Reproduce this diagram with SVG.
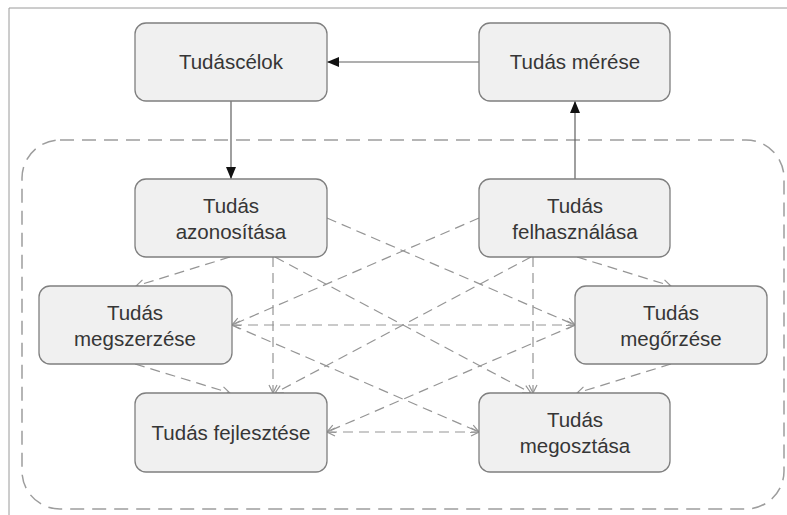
<svg xmlns="http://www.w3.org/2000/svg" width="787" height="515" viewBox="0 0 787 515">
<style>
.node rect{fill:#f0f0f0;stroke:#7f7f7f;stroke-width:1.3}
.node text{font-family:"Liberation Sans","DejaVu Sans",sans-serif;font-size:20.5px;fill:#363636;text-anchor:middle}
.solid{stroke:#606060;stroke-width:1.2;fill:none}
.dash{stroke:#959595;stroke-width:1.2;fill:none;stroke-dasharray:10 6}
.frame{stroke:#9a9a9a;stroke-width:1;fill:none}
.container{stroke:#9d9d9d;stroke-width:1.5;fill:none;stroke-dasharray:14 8}
</style>
<defs>
<marker id="solidArrow" viewBox="0 0 12 10" refX="12" refY="5" markerWidth="12" markerHeight="10" markerUnits="userSpaceOnUse" orient="auto">
<path d="M0,0 L12,5 L0,10 Z" fill="#111111" stroke="none"/>
</marker>
<marker id="openArrow" viewBox="0 0 10 10" refX="9" refY="5" markerWidth="10" markerHeight="10" markerUnits="userSpaceOnUse" orient="auto-start-reverse">
<path d="M1,1 L9,5 L1,9" fill="none" stroke="#959595" stroke-width="1.2" stroke-dasharray="none"/>
</marker>
</defs>
<rect width="787" height="515" fill="#ffffff"/>
<path class="frame" d="M9,515 L9,8 L787,8"/>
<rect class="container" x="22" y="140" width="762" height="369" rx="38" ry="38"/>
<g id="connectors">
<path class="solid" d="M479,62 L327,62" marker-end="url(#solidArrow)"/>
<path class="solid" d="M231,101 L231,179" marker-end="url(#solidArrow)"/>
<path class="solid" d="M575,179 L575,101" marker-end="url(#solidArrow)"/>
<path class="dash" d="M230,257 L136,286" marker-end="url(#openArrow)"/>
<path class="dash" d="M327,218 L575,325" marker-end="url(#openArrow)"/>
<path class="dash" d="M273,257 L273,393" marker-end="url(#openArrow)"/>
<path class="dash" d="M275,257 L531,393" marker-end="url(#openArrow)"/>
<path class="dash" d="M479,218 L232,325" marker-end="url(#openArrow)"/>
<path class="dash" d="M531,257 L275,393" marker-end="url(#openArrow)"/>
<path class="dash" d="M533,257 L533,393" marker-end="url(#openArrow)"/>
<path class="dash" d="M577,257 L671,286" marker-end="url(#openArrow)"/>
<path class="dash" d="M232,325 L575,325" marker-start="url(#openArrow)" marker-end="url(#openArrow)"/>
<path class="dash" d="M232,325 L479,432" marker-end="url(#openArrow)"/>
<path class="dash" d="M135,364 L230,393" marker-end="url(#openArrow)"/>
<path class="dash" d="M575,325 L327,432" marker-end="url(#openArrow)"/>
<path class="dash" d="M671,364 L577,393" marker-end="url(#openArrow)"/>
<path class="dash" d="M327,432 L479,432" marker-start="url(#openArrow)" marker-end="url(#openArrow)"/>
</g>
<g id="tudascelok" class="node">
<rect x="135" y="23" width="192" height="78" rx="11"/>
<text x="231" y="69">Tudáscélok</text>
</g>
<g id="tudas-merese" class="node">
<rect x="479" y="23" width="191" height="78" rx="11"/>
<text x="575" y="69">Tudás mérése</text>
</g>
<g id="tudas-azonositasa" class="node">
<rect x="135" y="179" width="192" height="78" rx="11"/>
<text x="231" y="213">Tudás</text>
<text x="231" y="239">azonosítása</text>
</g>
<g id="tudas-felhasznalasa" class="node">
<rect x="479" y="179" width="191" height="78" rx="11"/>
<text x="575" y="213">Tudás</text>
<text x="575" y="239">felhasználása</text>
</g>
<g id="tudas-megszerzese" class="node">
<rect x="39" y="286" width="193" height="78" rx="11"/>
<text x="135" y="320">Tudás</text>
<text x="135" y="346">megszerzése</text>
</g>
<g id="tudas-megorzese" class="node">
<rect x="575" y="286" width="192" height="78" rx="11"/>
<text x="671" y="320">Tudás</text>
<text x="671" y="346">megőrzése</text>
</g>
<g id="tudas-fejlesztese" class="node">
<rect x="135" y="393" width="192" height="79" rx="11"/>
<text x="231" y="440">Tudás fejlesztése</text>
</g>
<g id="tudas-megosztasa" class="node">
<rect x="479" y="393" width="191" height="79" rx="11"/>
<text x="575" y="427">Tudás</text>
<text x="575" y="453">megosztása</text>
</g>
</svg>
